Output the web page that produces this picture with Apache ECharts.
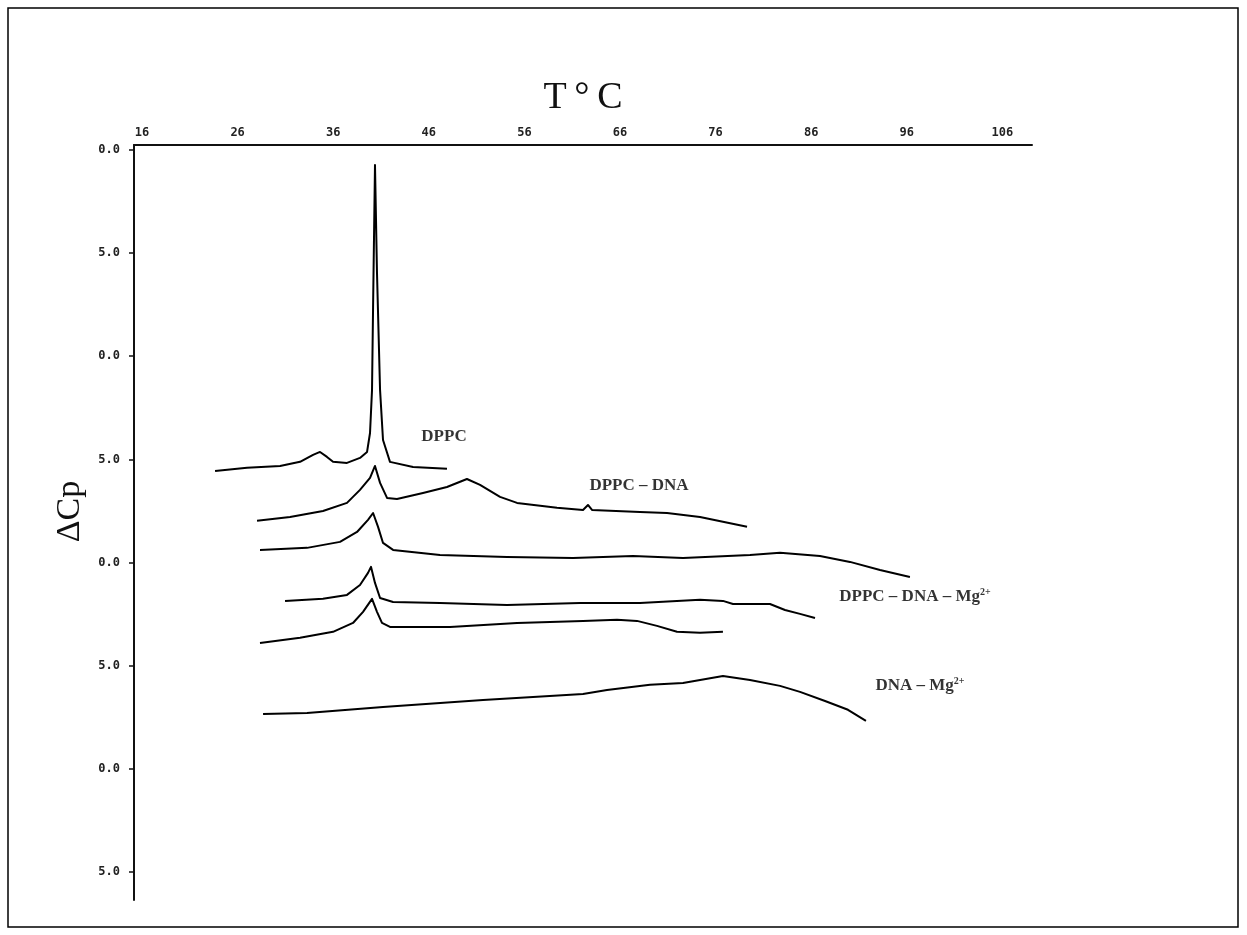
<!DOCTYPE html>
<html>
<head>
<meta charset="utf-8">
<script src="https://cdn.jsdelivr.net/npm/echarts@6/dist/echarts.min.js"></script>
<style>
  html, body { margin: 0; padding: 0; background: #fff; }
  #main { width: 1247px; height: 935px; }
</style>
</head>
<body>
<div id="main"></div>
<script>
// temperature (°C) / ΔCp pairs
var dppc = [
    [23.64, 24.44], [26.98, 24.59], [30.44, 24.68], [32.53, 24.88], [33.89, 25.22],
    [34.62, 25.36], [35.35, 25.12], [35.98, 24.88], [37.44, 24.83], [38.80, 25.07],
    [39.54, 25.36], [39.85, 26.28], [40.06, 28.37], [40.17, 32.39], [40.37, 39.27],
    [40.58, 34.04], [40.90, 28.37], [41.21, 25.94], [41.94, 24.88], [44.35, 24.63],
    [47.90, 24.54]
];
var dppcDna = [
    [28.03, 22.02], [31.48, 22.21], [34.93, 22.50], [37.44, 22.89], [38.80, 23.52],
    [39.85, 24.10], [40.37, 24.68], [40.90, 23.86], [41.63, 23.13], [42.67, 23.08],
    [45.39, 23.37], [47.90, 23.66], [49.99, 24.05], [51.36, 23.76], [53.45, 23.18],
    [55.23, 22.89], [59.41, 22.65], [62.13, 22.55], [62.65, 22.79], [63.07, 22.55],
    [68.09, 22.45], [70.92, 22.40], [74.37, 22.21], [79.29, 21.73]
];
var dppcDna2 = [
    [28.34, 20.61], [33.26, 20.71], [36.71, 21.00], [38.49, 21.48], [39.64, 22.07],
    [40.17, 22.40], [40.69, 21.73], [41.21, 20.95], [42.26, 20.61], [47.17, 20.37],
    [54.18, 20.27], [61.08, 20.22], [67.36, 20.32], [72.59, 20.22], [79.60, 20.37],
    [82.74, 20.47], [86.92, 20.32], [90.06, 20.03], [93.20, 19.64], [96.33, 19.30]
];
var dppcDnaMg = [
    [30.96, 18.14], [34.93, 18.24], [37.44, 18.43], [38.80, 18.91], [39.64, 19.50],
    [39.95, 19.79], [40.37, 19.01], [40.90, 18.28], [42.26, 18.09], [47.17, 18.04],
    [54.18, 17.94], [61.82, 18.04], [68.09, 18.04], [74.37, 18.19], [76.77, 18.14],
    [77.82, 17.99], [79.60, 17.99], [81.69, 17.99], [83.26, 17.70], [84.83, 17.51],
    [86.40, 17.31]
];
var dppcDnaMg2 = [
    [28.34, 16.10], [32.53, 16.35], [35.98, 16.64], [38.07, 17.07], [39.12, 17.61],
    [40.06, 18.24], [40.58, 17.61], [41.10, 17.07], [41.94, 16.88], [48.22, 16.88],
    [55.23, 17.07], [62.13, 17.17], [65.69, 17.22], [67.78, 17.17], [69.87, 16.93],
    [71.96, 16.64], [74.37, 16.59], [76.77, 16.64]
];
var dnaMg = [
    [28.66, 12.66], [33.26, 12.71], [41.21, 13.00], [51.67, 13.34], [62.13, 13.63],
    [64.64, 13.82], [69.14, 14.07], [72.59, 14.16], [76.77, 14.50], [79.60, 14.31],
    [82.74, 14.02], [84.83, 13.73], [87.45, 13.29], [89.85, 12.86], [91.73, 12.32]
];

var xTicks = [16, 26, 36, 46, 56, 66, 76, 86, 96, 106];
var yTicks = [5, 10, 15, 20, 25, 30, 35, 40];

// curve labels: [text, T, ΔCp]
var curveLabels = [
    ['DPPC', 47.59, 26.09],
    ['DPPC – DNA', 67.99, 23.71],
    ['DPPC – DNA – Mg{sup|2+}', 96.86, 18.33],
    ['DNA – Mg{sup|2+}', 97.38, 14.02]
];

var labelStyle = {
    fontFamily: 'Liberation Serif',
    fontWeight: 'bold',
    fontSize: 17,
    color: '#000',
    rich: {
        sup: { fontFamily: 'Liberation Serif', fontWeight: 'bold', fontSize: 10, color: '#000', verticalAlign: 'top', padding: [0, 0, 9, 0] }
    }
};

function curve(data) {
    return {
        type: 'line',
        data: data,
        symbol: 'none',
        smooth: false,
        lineStyle: { color: '#000', width: 2, join: 'round' },
        silent: true
    };
}

var series = [dppc, dppcDna, dppcDna2, dppcDnaMg, dppcDnaMg2, dnaMg].map(curve);
series.push({
    type: 'scatter',
    data: curveLabels.map(function (l) { return { value: [l[1], l[2]], name: l[0] }; }),
    symbolSize: 0,
    silent: true,
    label: Object.assign({
        show: true,
        position: 'inside',
        formatter: function (p) { return p.name; }
    }, labelStyle)
});

var myChart = echarts.init(document.getElementById('main'));

option = {
    backgroundColor: '#fff',
    animation: false,
    grid: {
        left: 134,
        top: 145,
        width: 898,
        height: 755,
        outerBoundsMode: 'none',
        containLabel: false
    },
    graphic: [{
        type: 'rect',
        shape: { x: 8, y: 8, width: 1230, height: 919 },
        style: { fill: 'none', stroke: '#000', lineWidth: 1.5 }
    }],
    xAxis: {
        type: 'value',
        position: 'top',
        min: 15.16,
        max: 109.1,
        name: 'T\u2009\u00b0\u2009C',
        nameLocation: 'middle',
        nameGap: 28,
        nameTextStyle: { fontFamily: 'Liberation Serif', fontSize: 38, color: '#111' },
        axisLine: { show: true, onZero: false, lineStyle: { color: '#111', width: 2 } },
        axisTick: { show: false },
        splitLine: { show: false },
        axisLabel: {
            customValues: xTicks,
            margin: 6,
            fontFamily: 'DejaVu Sans Mono',
            fontWeight: 'bold',
            fontSize: 12,
            color: '#222'
        }
    },
    yAxis: {
        type: 'value',
        min: 3.64,
        max: 40.24,
        name: '\u0394Cp',
        nameLocation: 'middle',
        nameGap: 46,
        nameRotate: 90,
        nameTextStyle: { fontFamily: 'Liberation Serif', fontSize: 34, color: '#111', padding: [0, 0, 0, 22] },
        axisLine: { show: true, onZero: false, lineStyle: { color: '#111', width: 2 } },
        axisTick: { show: true, customValues: yTicks, length: 5, lineStyle: { color: '#111', width: 1.5 } },
        splitLine: { show: false },
        axisLabel: {
            customValues: yTicks,
            margin: 14,
            fontFamily: 'DejaVu Sans Mono',
            fontWeight: 'bold',
            fontSize: 12,
            color: '#222',
            formatter: function (v) { return (v % 10).toFixed(1); }
        }
    },
    series: series
};
myChart.setOption(option);
</script>
</body>
</html>
